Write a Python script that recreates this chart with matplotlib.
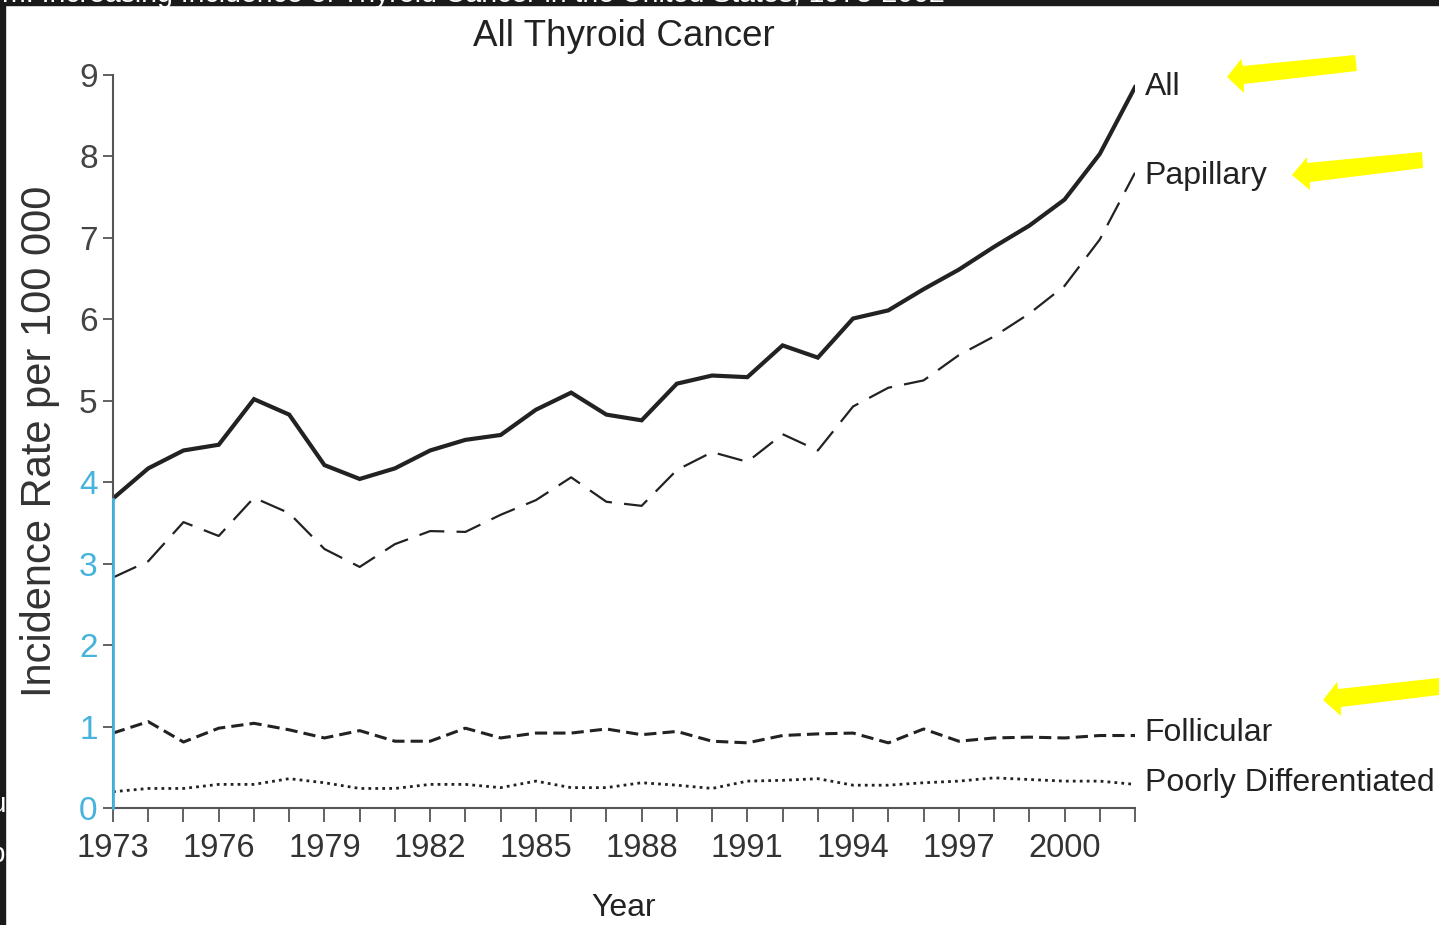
import matplotlib.pyplot as plt
from matplotlib.patches import Polygon, Rectangle

# incidence rate per 100 000
years = list(range(1973, 2003))
all_rates = [3.80, 4.17, 4.39, 4.46, 5.02, 4.83, 4.21, 4.04, 4.17, 4.39,
             4.52, 4.58, 4.89, 5.10, 4.83, 4.76, 5.21, 5.31, 5.29, 5.68,
             5.53, 6.01, 6.11, 6.37, 6.61, 6.89, 7.15, 7.47, 8.03, 8.85]
papillary = [2.83, 3.03, 3.51, 3.34, 3.81, 3.62, 3.18, 2.96, 3.24, 3.40,
             3.39, 3.60, 3.78, 4.06, 3.76, 3.71, 4.15, 4.37, 4.25, 4.59,
             4.39, 4.93, 5.16, 5.25, 5.56, 5.79, 6.07, 6.41, 6.98, 7.80]
follicular = [0.92, 1.06, 0.81, 0.98, 1.04, 0.96, 0.86, 0.95, 0.82, 0.82,
              0.98, 0.86, 0.92, 0.92, 0.97, 0.90, 0.94, 0.82, 0.80, 0.89,
              0.91, 0.92, 0.80, 0.97, 0.82, 0.86, 0.87, 0.86, 0.89, 0.89]
poorly = [0.20, 0.24, 0.24, 0.29, 0.29, 0.36, 0.31, 0.24, 0.24, 0.29,
          0.29, 0.25, 0.33, 0.25, 0.25, 0.31, 0.28, 0.24, 0.33, 0.34,
          0.36, 0.28, 0.28, 0.31, 0.33, 0.37, 0.35, 0.33, 0.33, 0.29]

x_ticks = list(range(1973, 2003))
x_labels = [str(y) if (y - 1973) % 3 == 0 else '' for y in x_ticks]
y_ticks = list(range(0, 10))

title = 'All Thyroid Cancer'
x_axis = 'Year'
y_axis = 'Incidence Rate per 100 000'
banner = 'm: Increasing Incidence of Thyroid Cancer in the United States, 1973-2002'

font = ['Liberation Sans', 'DejaVu Sans']
ink = '#222222'
gray = '#555555'
blue = '#45b3dc'

fig = plt.figure(figsize=(14.39, 9.25), dpi=100)
ax = fig.add_axes([113 / 1439, 117 / 925, 1022 / 1439, 733 / 925])

ax.plot(years, all_rates, color=ink, lw=3.0, solid_joinstyle='miter')
ax.plot(years, papillary, color=ink, lw=1.6, dashes=(11.5, 5.5))
ax.plot(years, follicular, color=ink, lw=2.2, dashes=(4, 2))
ax.plot(years, poorly, color=ink, lw=2.0, dashes=(1, 1.5))

labels = [('All', all_rates, 0), ('Papillary', papillary, -2),
          ('Follicular', follicular, 2), ('Poorly Differentiated', poorly, 1)]
for name, vals, dy in labels:
    ax.annotate(name, xy=(years[-1], vals[-1]), xytext=(7, dy),
                textcoords='offset points', va='center', ha='left',
                fontsize=23, family=font, color=ink, annotation_clip=False)

ax.set_xlim(1973, 2002)
ax.set_ylim(0, 9)
ax.set_xticks(x_ticks)
ax.set_xticklabels(x_labels)
ax.set_yticks(y_ticks)
for s in ['top', 'right']:
    ax.spines[s].set_visible(False)
for s in ['left', 'bottom']:
    ax.spines[s].set_color(gray)
    ax.spines[s].set_linewidth(1.5)
ax.tick_params(axis='x', direction='out', length=10, width=1.3, color=gray,
               pad=8, labelsize=23.5, labelcolor='#333333')
ax.tick_params(axis='y', direction='out', length=7, width=1.3, color=gray,
               pad=4, labelsize=24, labelcolor='#444444')
for lab in ax.get_xticklabels() + ax.get_yticklabels():
    lab.set_family(font)
ylabs = ax.get_yticklabels()
for t, lab, v in zip(ax.yaxis.get_major_ticks(), ylabs, y_ticks):
    if v <= 4:
        lab.set_color(blue)
        t.tick1line.set_color(blue)
# the lower part of the y axis shows in blue
ax.plot([1973, 1973], [0, all_rates[0]], color=blue, lw=2, clip_on=False, zorder=3)

ax.set_title(title, fontsize=26.5, family=font, color=ink, pad=21)
ax.set_xlabel(x_axis, fontsize=23, family=font, color=ink, labelpad=21)
ax.set_ylabel(y_axis, fontsize=30, family=font, color='#333333', labelpad=14)

# screenshot edges and yellow arrows, in pixel coordinates
ov = fig.add_axes([0, 0, 1, 1], zorder=10)
ov.set_xlim(0, 1439)
ov.set_ylim(925, 0)
ov.axis('off')
ov.patch.set_alpha(0)
ov.add_patch(Rectangle((0, 0), 1439, 5, color='#1a1a1a'))
ov.add_patch(Rectangle((0, 0), 5, 925, color='#1a1a1a'))
ov.text(2, 2, banner, color='white', fontsize=20.5, family=font,
        va='baseline', ha='left')
ov.text(-10, 812, 'u', color='white', fontsize=20, family=font, va='baseline')
ov.text(-11, 862, 'p', color='white', fontsize=20, family=font, va='baseline')

arrows = [
    [(1227, 77), (1241, 59), (1243, 66), (1355, 55), (1357, 71), (1244, 84), (1244, 93)],
    [(1292, 175), (1307, 157), (1307, 163), (1422, 152), (1423, 168), (1310, 182), (1310, 190)],
    [(1323, 700), (1337, 682), (1338, 689), (1439, 678), (1439, 695), (1341, 707), (1341, 716)],
]
for pts in arrows:
    ov.add_patch(Polygon(pts, closed=True, color='#ffff00', lw=0))

plt.savefig('out.png', dpi=100)
plt.close()
